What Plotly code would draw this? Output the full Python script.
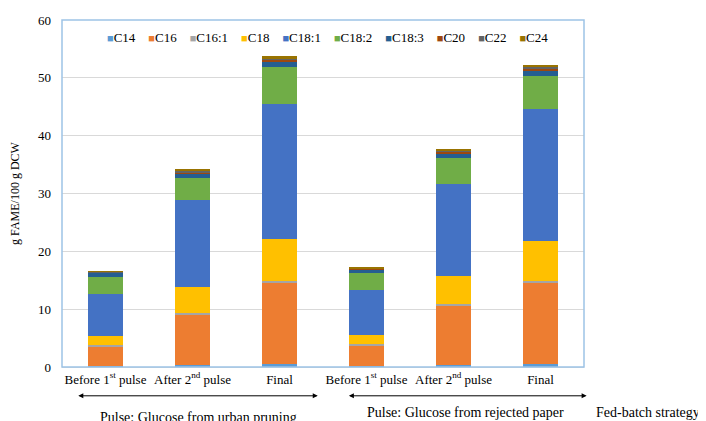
import plotly.graph_objects as go

categories = ["Before 1<sup>st</sup> pulse", "After 2<sup>nd</sup> pulse", "Final",
              "Before 1<sup>st</sup> pulse", "After 2<sup>nd</sup> pulse", "Final"]
series_names = ["C14", "C16", "C16:1", "C18", "C18:1", "C18:2", "C18:3", "C20", "C22", "C24"]

C14   = [0.1, 0.3, 0.6, 0.1, 0.4, 0.6]
C16   = [3.5, 8.8, 14.0, 3.6, 10.15, 14.0]
C16_1 = [0.15, 0.2, 0.2, 0.2, 0.3, 0.2]
C18   = [1.65, 4.5, 7.3, 1.7, 4.85, 7.0]
C18_1 = [7.3, 15.0, 23.4, 7.8, 16.0, 22.8]
C18_2 = [2.9, 3.9, 6.3, 2.9, 4.4, 5.7]
C18_3 = [0.7, 0.8, 1.0, 0.6, 0.85, 1.05]
C20   = [0.1, 0.2, 0.3, 0.1, 0.25, 0.3]
C22   = [0.1, 0.2, 0.2, 0.1, 0.25, 0.3]
C24   = [0.1, 0.3, 0.4, 0.2, 0.3, 0.35]

values = [C14, C16, C16_1, C18, C18_1, C18_2, C18_3, C20, C22, C24]
colors = ["#5B9BD5", "#ED7D31", "#A5A5A5", "#FFC000", "#4472C4",
          "#70AD47", "#255E91", "#9E480E", "#636363", "#997300"]

group_labels = ["Pulse: Glucose from urban pruning", "Pulse: Glucose from rejected paper",
                "Fed-batch strategy"]

FONT = "Liberation Serif, Times New Roman, serif"
x = list(range(len(categories)))

fig = go.Figure()
for name, vals, col in zip(series_names, values, colors):
    fig.add_trace(go.Bar(x=x, y=vals, name=name, marker=dict(color=col, line=dict(width=0)),
                         width=0.4, showlegend=False))

# page body has an 8px margin, so the figure is offset by 8px in the window
fig.update_layout(
    barmode="stack",
    width=698, height=413,
    margin=dict(l=54, r=122, t=12, b=54),
    paper_bgcolor="white", plot_bgcolor="white",
    font=dict(family=FONT, size=13, color="#000000"),
    showlegend=False,
)
fig.update_xaxes(range=[-0.5, 5.5], tickvals=x, ticktext=categories, showgrid=False,
                 showline=True, linecolor="#d9d9d9", linewidth=1, ticks="",
                 tickfont=dict(family=FONT, size=13), zeroline=False, automargin=False)
fig.update_yaxes(range=[0, 60], dtick=10, showgrid=True, gridcolor="#d9d9d9", gridwidth=1,
                 showline=False, zeroline=False, ticks="", automargin=False,
                 ticklabelstandoff=10,
                 tickfont=dict(family=FONT, size=13),
                 title=dict(text="g FAME/100 g DCW", font=dict(family=FONT, size=12), standoff=16))

# plot-area outline (light blue)
fig.add_shape(type="rect", xref="paper", yref="paper", x0=0, x1=1, y0=0, y1=1,
              line=dict(color="#9DC3E6", width=1.5), fillcolor="rgba(0,0,0,0)", layer="above")

# legend built as one text line with coloured square markers
legend_text = "&nbsp;&nbsp;&nbsp;&nbsp;".join(
    f'<span style="color:{c};font-size:11px">■</span>{n}' for n, c in zip(series_names, colors))
fig.add_annotation(x=0.5086, y=0.951, xref="paper", yref="paper", text=legend_text,
                   showarrow=False, font=dict(family=FONT, size=13), xanchor="center",
                   yanchor="middle")

# double-headed arrows beneath groups
for x0, x1 in [(-0.33, 2.44), (2.78, 5.53)]:
    fig.add_annotation(x=x1, y=-0.083, xref="x", yref="paper", ax=x0, ay=0,
                       axref="x", ayref="pixel", text="", showarrow=True,
                       arrowhead=2, startarrowhead=2, arrowside="end+start",
                       arrowsize=1, startarrowsize=1, arrowwidth=1, arrowcolor="#000000")

fig.add_annotation(x=1.07, y=-0.145, xref="x", yref="paper", text=group_labels[0],
                   showarrow=False, font=dict(family=FONT, size=14), yanchor="middle")
fig.add_annotation(x=4.14, y=-0.13, xref="x", yref="paper", text=group_labels[1],
                   showarrow=False, font=dict(family=FONT, size=14), yanchor="middle")
fig.add_annotation(x=1.0, xshift=10, y=-0.13, xref="paper", yref="paper", text=group_labels[2],
                   showarrow=False, font=dict(family=FONT, size=14), yanchor="middle",
                   xanchor="left")

fig.write_html("out.html")
